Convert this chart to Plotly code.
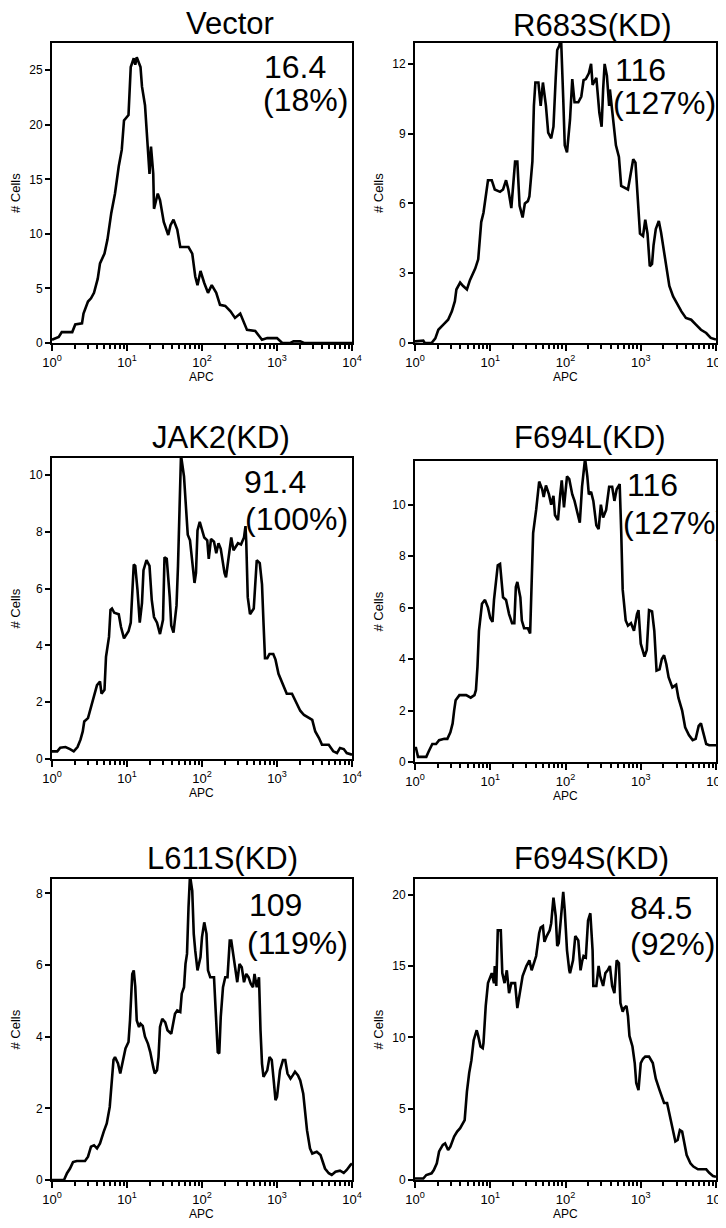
import plotly.graph_objects as go

# Page is 726x1228; the html body adds an 8px margin, so the figure is drawn
# 8px in from the top-left corner of the page.
PAGE_OFF = 8
W, H = 726 - PAGE_OFF, 1228 - PAGE_OFF

# ---------------- data (log10 APC position, # cells) ----------------
vector_log_apc = [0, 0.09, 0.13, 0.27, 0.31, 0.40, 0.42, 0.48, 0.52, 0.56,
                  0.61, 0.64, 0.70, 0.74, 0.79, 0.84, 0.89, 0.93, 0.96, 1.02,
                  1.05, 1.09, 1.11, 1.13, 1.18, 1.20, 1.24, 1.27, 1.30, 1.32,
                  1.35, 1.36, 1.41, 1.44, 1.49, 1.55, 1.58, 1.62, 1.67, 1.71,
                  1.82, 1.87, 1.91, 1.94, 1.98, 2.03, 2.08, 2.13, 2.19, 2.24,
                  2.31, 2.38, 2.44, 2.51, 2.56, 2.60, 2.71, 2.80, 2.87, 3.00,
                  3.07, 3.18, 3.22, 3.31, 3.36, 4.0]
vector_cells = [0.3, 0.55, 1.0, 1.0, 1.7, 1.8, 2.7, 3.8, 4.1, 4.6,
                5.9, 7.3, 8.2, 9.5, 11.9, 13.7, 16.2, 17.7, 20.4, 20.9,
                25.3, 26.1, 25.5, 26.2, 25.3, 23.5, 21.8, 18.6, 15.5, 18.0,
                15.5, 12.3, 13.7, 13.1, 11.1, 9.9, 10.8, 11.3, 10.4, 8.8,
                8.8, 8.2, 6.1, 5.3, 6.6, 5.5, 4.6, 5.3, 4.6, 3.5,
                3.4, 2.9, 2.3, 2.7, 1.8, 1.2, 1.1, 0.3, 0.45, 0.45,
                0, 0, 0.15, 0.15, 0, 0]

r683s_log_apc = [0, 0.11, 0.13, 0.22, 0.27, 0.31, 0.38, 0.44, 0.49, 0.53,
                 0.55, 0.60, 0.64, 0.69, 0.73, 0.80, 0.84, 0.86, 0.88, 0.91,
                 0.94, 0.97, 1.02, 1.06, 1.13, 1.17, 1.21, 1.24, 1.28, 1.30,
                 1.33, 1.36, 1.39, 1.43, 1.46, 1.50, 1.52, 1.56, 1.58, 1.60,
                 1.64, 1.67, 1.70, 1.74, 1.77, 1.81, 1.84, 1.87, 1.89, 1.92,
                 1.94, 1.97, 1.99, 2.02, 2.06, 2.09, 2.12, 2.17, 2.21, 2.24,
                 2.27, 2.31, 2.34, 2.36, 2.41, 2.45, 2.48, 2.50, 2.52, 2.55,
                 2.58, 2.59, 2.62, 2.64, 2.67, 2.71, 2.74, 2.83, 2.85, 2.90,
                 2.93, 2.96, 2.99, 3.03, 3.06, 3.09, 3.12, 3.15, 3.17, 3.20,
                 3.24, 3.27, 3.31, 3.35, 3.38, 3.43, 3.49, 3.54, 3.60, 3.67,
                 3.73, 3.80, 3.87, 3.93, 4.00]
r683s_cells = [0.07, 0.1, 0, 0, 0.2, 0.57, 0.8, 1.0, 1.36, 1.8,
               2.3, 2.6, 2.45, 2.3, 2.7, 3.2, 3.6, 4.45, 5.2, 5.6,
               6.25, 7.0, 7.0, 6.6, 6.5, 6.6, 7.0, 6.6, 5.8, 6.5,
               7.8, 7.8, 5.9, 5.4, 6.0, 6.1, 6.3, 7.8, 10.2, 11.2,
               11.2, 10.2, 11.2, 10.2, 9.05, 8.8, 9.3, 11.4, 12.6, 12.8,
               13.2, 10.5, 8.5, 8.2, 9.6, 11.35, 10.35, 10.35, 10.6, 11.3,
               11.35, 11.6, 12.0, 11.1, 11.4, 9.9, 9.3, 10.9, 12.0, 11.5,
               10.2, 10.9, 9.9, 9.4, 8.5, 8.0, 6.75, 6.6, 7.0, 7.9,
               7.75, 6.3, 4.7, 4.6, 5.3, 4.7, 3.3, 3.4, 4.2, 4.9,
               5.25, 4.75, 3.9, 2.95, 2.45, 2.0, 1.65, 1.36, 1.08, 1.0,
               0.8, 0.57, 0.43, 0.22, 0.15]

jak2_log_apc = [0, 0.07, 0.11, 0.18, 0.24, 0.29, 0.34, 0.38, 0.41, 0.43,
                0.48, 0.52, 0.56, 0.60, 0.64, 0.66, 0.70, 0.72, 0.76, 0.78,
                0.80, 0.83, 0.89, 0.92, 0.96, 1.02, 1.05, 1.07, 1.09, 1.11,
                1.14, 1.17, 1.20, 1.22, 1.26, 1.30, 1.33, 1.36, 1.40, 1.44,
                1.48, 1.50, 1.53, 1.57, 1.59, 1.62, 1.66, 1.68, 1.70, 1.72,
                1.76, 1.79, 1.81, 1.84, 1.87, 1.90, 1.92, 1.94, 1.97, 2.00,
                2.03, 2.07, 2.09, 2.12, 2.16, 2.19, 2.22, 2.25, 2.30, 2.32,
                2.36, 2.39, 2.42, 2.48, 2.52, 2.56, 2.58, 2.59, 2.61, 2.64,
                2.69, 2.71, 2.73, 2.77, 2.80, 2.82, 2.84, 2.87, 2.90, 2.95,
                2.98, 3.02, 3.07, 3.13, 3.20, 3.24, 3.31, 3.36, 3.42, 3.47,
                3.51, 3.56, 3.60, 3.69, 3.75, 3.80, 3.84, 3.89, 3.93, 4.00]
jak2_cells = [0.27, 0.27, 0.4, 0.42, 0.35, 0.27, 0.42, 0.68, 0.97, 1.32,
              1.44, 1.8, 2.15, 2.6, 2.73, 2.3, 2.44, 3.6, 4.3, 5.25,
              5.3, 5.15, 5.1, 4.65, 4.25, 4.5, 4.8, 6.0, 6.85, 6.8,
              5.95, 4.8, 5.5, 6.65, 7.0, 6.8, 5.6, 5.0, 4.8, 4.4,
              4.9, 7.1, 7.05, 5.7, 4.7, 4.45, 5.4, 6.8, 9.2, 10.7,
              9.95, 8.5, 7.9, 7.7, 6.8, 6.2, 6.55, 8.05, 8.35, 8.05,
              7.8, 7.7, 7.05, 7.75, 7.65, 7.25, 7.6, 7.4, 6.55, 6.4,
              7.25, 7.8, 7.35, 7.6, 7.55, 7.8, 8.2, 7.65, 5.7, 5.1,
              5.3, 6.05, 7.0, 6.9, 6.15, 4.8, 3.55, 3.55, 3.7, 3.7,
              3.5, 3.0, 2.65, 2.3, 2.3, 2.1, 1.7, 1.55, 1.45, 1.38,
              0.97, 0.74, 0.5, 0.5, 0.27, 0.21, 0.39, 0.35, 0.21, 0.15]

f694l_log_apc = [0, 0.01, 0.04, 0.15, 0.18, 0.23, 0.28, 0.32, 0.39, 0.43,
                 0.47, 0.50, 0.52, 0.54, 0.59, 0.68, 0.74, 0.79, 0.81, 0.83,
                 0.85, 0.89, 0.93, 0.97, 1.00, 1.03, 1.05, 1.08, 1.10, 1.13,
                 1.16, 1.17, 1.21, 1.25, 1.29, 1.32, 1.34, 1.36, 1.40, 1.42,
                 1.45, 1.50, 1.53, 1.55, 1.57, 1.61, 1.65, 1.69, 1.71, 1.74,
                 1.78, 1.81, 1.84, 1.86, 1.90, 1.93, 1.95, 1.98, 2.02, 2.05,
                 2.09, 2.12, 2.15, 2.19, 2.22, 2.24, 2.26, 2.29, 2.31, 2.34,
                 2.37, 2.41, 2.44, 2.47, 2.50, 2.54, 2.58, 2.62, 2.65, 2.68,
                 2.72, 2.74, 2.76, 2.80, 2.83, 2.87, 2.91, 2.95, 2.97, 3.00,
                 3.05, 3.08, 3.11, 3.15, 3.18, 3.21, 3.25, 3.28, 3.31, 3.34,
                 3.37, 3.42, 3.47, 3.50, 3.55, 3.59, 3.64, 3.69, 3.73, 3.77,
                 3.80, 3.83, 3.87, 3.91, 4.00]
f694l_cells = [0.5, 0.58, 0.2, 0.2, 0.4, 0.7, 0.7, 0.85, 0.9, 0.9,
               1.15, 1.5, 2.0, 2.4, 2.6, 2.6, 2.5, 2.6, 2.8, 3.7,
               5.1, 6.15, 6.3, 6.0, 5.6, 5.45, 6.3, 7.3, 7.65, 7.7,
               6.9, 6.4, 6.3, 5.75, 5.4, 5.4, 6.8, 7.0, 6.4, 5.5,
               5.2, 5.2, 5.0, 6.7, 8.9, 9.8, 10.9, 10.6, 10.3, 10.75,
               10.4, 10.0, 10.35, 9.6, 9.4, 10.4, 10.95, 9.9, 11.1, 11.0,
               10.4, 10.15, 9.8, 9.3, 10.7, 11.45, 11.8, 11.1, 10.4, 10.5,
               10.15, 9.2, 9.05, 10.0, 9.5, 9.8, 10.7, 10.7, 10.15, 10.6,
               10.8, 9.0, 6.7, 5.5, 5.3, 5.4, 5.1, 5.75, 5.9, 4.6,
               4.1, 4.35, 5.9, 5.85, 5.1, 3.55, 3.6, 4.0, 4.15, 3.8,
               3.3, 2.9, 3.0, 2.5, 2.0, 1.35, 1.05, 0.85, 0.9, 1.4,
               1.5, 1.15, 0.7, 0.65, 0.65]

l611s_log_apc = [0, 0.16, 0.20, 0.24, 0.28, 0.33, 0.44, 0.48, 0.52, 0.56,
                 0.60, 0.64, 0.69, 0.73, 0.77, 0.80, 0.82, 0.84, 0.88, 0.91,
                 0.95, 0.98, 1.02, 1.04, 1.07, 1.09, 1.11, 1.13, 1.16, 1.18,
                 1.21, 1.24, 1.28, 1.31, 1.35, 1.37, 1.40, 1.42, 1.44, 1.47,
                 1.51, 1.54, 1.59, 1.61, 1.64, 1.67, 1.71, 1.73, 1.76, 1.78,
                 1.80, 1.82, 1.84, 1.87, 1.89, 1.91, 1.94, 1.98, 2.00, 2.03,
                 2.06, 2.08, 2.11, 2.16, 2.19, 2.21, 2.23, 2.25, 2.28, 2.31,
                 2.34, 2.37, 2.39, 2.42, 2.44, 2.47, 2.50, 2.53, 2.56, 2.59,
                 2.62, 2.65, 2.68, 2.70, 2.73, 2.76, 2.78, 2.80, 2.82, 2.87,
                 2.90, 2.93, 2.96, 2.98, 3.00, 3.02, 3.04, 3.08, 3.11, 3.14,
                 3.18, 3.21, 3.24, 3.28, 3.31, 3.35, 3.38, 3.40, 3.44, 3.47,
                 3.53, 3.58, 3.61, 3.64, 3.69, 3.73, 3.78, 3.84, 3.89, 3.93,
                 3.98, 4.00]
l611s_cells = [0, 0, 0.19, 0.32, 0.5, 0.53, 0.53, 0.65, 0.93, 0.97,
               0.88, 1.02, 1.35, 1.58, 2.04, 2.7, 3.35, 3.43, 3.25, 2.97,
               3.35, 3.67, 3.85, 4.45, 5.75, 5.85, 5.4, 4.45, 4.27, 4.36,
               4.3, 4.0, 3.8, 3.57, 3.15, 2.97, 3.06, 3.43, 4.27, 4.5,
               4.4, 4.18, 4.08, 4.36, 4.64, 4.73, 4.69, 5.2, 5.38, 6.03,
               6.31, 7.6, 8.5, 8.07, 6.87, 6.4, 5.85, 6.22, 6.78, 7.19,
               6.87, 5.85, 5.66, 5.66, 4.36, 3.57, 3.53, 4.55, 5.38, 5.66,
               5.66, 6.68, 6.68, 6.22, 5.85, 5.52, 6.03, 5.94, 5.52, 5.75,
               5.66, 5.48, 5.38, 5.75, 5.38, 5.66, 4.18, 3.25, 2.88, 3.06,
               3.43, 3.35, 2.69, 2.23, 2.32, 2.69, 3.06, 3.35, 3.35, 2.97,
               2.83, 2.92, 3.02, 2.92, 2.78, 2.41, 1.86, 1.39, 0.88, 0.74,
               0.79, 0.7, 0.51, 0.32, 0.19, 0.14, 0.23, 0.26, 0.2, 0.28,
               0.42, 0.46]

f694s_log_apc = [0, 0.11, 0.15, 0.22, 0.25, 0.29, 0.32, 0.37, 0.40, 0.44,
                 0.47, 0.52, 0.56, 0.60, 0.66, 0.69, 0.72, 0.75, 0.78, 0.82,
                 0.84, 0.87, 0.90, 0.91, 0.94, 0.97, 1.02, 1.05, 1.06, 1.08,
                 1.10, 1.14, 1.16, 1.19, 1.22, 1.25, 1.28, 1.33, 1.36, 1.39,
                 1.43, 1.48, 1.52, 1.55, 1.58, 1.61, 1.65, 1.67, 1.70, 1.72,
                 1.75, 1.79, 1.81, 1.84, 1.87, 1.89, 1.91, 1.94, 1.97, 1.99,
                 2.02, 2.05, 2.06, 2.10, 2.13, 2.17, 2.20, 2.22, 2.24, 2.27,
                 2.30, 2.33, 2.36, 2.37, 2.41, 2.44, 2.46, 2.50, 2.53, 2.56,
                 2.59, 2.62, 2.65, 2.68, 2.71, 2.73, 2.76, 2.78, 2.81, 2.83,
                 2.85, 2.89, 2.92, 2.94, 2.97, 3.00, 3.03, 3.06, 3.11, 3.16,
                 3.20, 3.25, 3.28, 3.31, 3.35, 3.38, 3.43, 3.46, 3.49, 3.52,
                 3.55, 3.58, 3.61, 3.66, 3.70, 3.76, 3.87, 3.91, 3.96, 4.00]
f694s_cells = [0.1, 0.1, 0.35, 0.47, 0.7, 1.17, 2.0, 2.46, 2.57, 2.1,
               2.34, 3.04, 3.39, 3.63, 4.2, 6.2, 7.5, 8.4, 9.8, 10.5,
               10.1, 9.36, 9.24, 9.6, 12.2, 13.8, 14.5, 13.8, 15.0, 13.6,
               17.5, 17.5, 14.5, 13.8, 14.7, 13.1, 13.8, 13.8, 12.05, 12.9,
               14.3, 15.0, 15.4, 14.7, 15.2, 15.7, 17.3, 17.7, 17.8, 16.7,
               17.1, 17.5, 18.0, 19.8, 18.5, 16.4, 16.6, 18.5, 20.2, 18.9,
               16.1, 14.7, 14.5, 15.4, 17.1, 16.8, 14.7, 15.3, 15.7, 15.6,
               18.2, 18.7, 16.1, 13.6, 13.6, 15.0, 14.3, 13.6, 14.5, 14.7,
               15.0, 13.6, 13.1, 15.4, 15.2, 12.4, 11.8, 12.05, 12.2, 11.5,
               10.1, 9.36, 8.2, 6.8, 6.3, 8.2, 8.5, 8.65, 8.65, 8.2,
               7.1, 6.3, 5.85, 5.4, 5.4, 4.7, 3.4, 2.7, 2.8, 3.5,
               3.4, 2.57, 1.75, 1.17, 0.94, 0.75, 0.75, 0.5, 0.28, 0.23]

titles = ["Vector", "R683S(KD)", "JAK2(KD)", "F694L(KD)", "L611S(KD)", "F694S(KD)"]
mfi_values = ["16.4", "116", "91.4", "116", "109", "84.5"]
mfi_percents = ["(18%)", "(127%)", "(100%)", "(127%)", "(119%)", "(92%)"]

x_major_ticks = [1, 10, 100, 1000, 10000]
x_major_text = ["10<sup>0</sup>", "10<sup>1</sup>", "10<sup>2</sup>",
                "10<sup>3</sup>", "10<sup>4</sup>"]
x_minor_ticks = [2, 3, 4, 5, 6, 7, 8, 9,
                 20, 30, 40, 50, 60, 70, 80, 90,
                 200, 300, 400, 500, 600, 700, 800, 900,
                 2000, 3000, 4000, 5000, 6000, 7000, 8000, 9000]

series_x = [vector_log_apc, r683s_log_apc, jak2_log_apc,
            f694l_log_apc, l611s_log_apc, f694s_log_apc]
series_y = [vector_cells, r683s_cells, jak2_cells,
            f694l_cells, l611s_cells, f694s_cells]
y_max = [27.5, 12.9, 10.6, 11.7, 8.4, 21.1]
y_dtick = [5, 3, 2, 2, 2, 5]

# ---------------- layout geometry (page pixels) ----------------
boxes = [  # x0, x1, ytop, ybottom
    (52, 352, 43, 343), (415, 716, 43, 343),
    (52, 352, 458, 759), (415, 716, 461, 762),
    (52, 352, 879, 1180), (415, 716, 879, 1180),
]
title_pos = [(230, 24), (592, 25), (221, 437), (590, 437), (222, 858), (591, 858)]
val_pos = [(262, 67), (613, 70), (242, 482), (625, 485), (247, 905), (628, 908)]
pct_pos = [(261, 100), (611, 103), (243, 519), (621, 523), (245, 943), (628, 944)]

FONT = "Liberation Sans, Arial, Helvetica, sans-serif"


def fx(px):
    return (px - PAGE_OFF) / W


def fy(py):
    return 1 - (py - PAGE_OFF) / H


fig = go.Figure()
annotations = []
layout = dict(
    width=W, height=H,
    margin=dict(l=0, r=0, t=0, b=0),
    paper_bgcolor="white", plot_bgcolor="white",
    showlegend=False,
    font=dict(family=FONT, color="black"),
)

for i in range(6):
    n = i + 1
    xs = [10 ** v for v in series_x[i]]
    fig.add_trace(go.Scatter(
        x=xs, y=series_y[i], mode="lines",
        line=dict(color="black", width=2.6),
        xaxis=f"x{n}", yaxis=f"y{n}", hoverinfo="skip",
    ))
    x0, x1, yt, yb = boxes[i]
    layout[f"xaxis{n}"] = dict(
        type="log", range=[0, 4], domain=[fx(x0), fx(x1)], anchor=f"y{n}",
        showline=True, linecolor="black", linewidth=2, mirror=True,
        showgrid=False, zeroline=False,
        ticks="outside", ticklen=6, tickwidth=1.8, tickcolor="black",
        tickmode="array", tickvals=x_major_ticks, ticktext=x_major_text,
        tickfont=dict(size=13, family=FONT),
        minor=dict(ticks="outside", ticklen=4, tickwidth=1.8, tickcolor="black",
                   tickmode="array", tickvals=x_minor_ticks, showgrid=False),
        automargin=False,
    )
    layout[f"yaxis{n}"] = dict(
        range=[0, y_max[i]], domain=[fy(yb), fy(yt)], anchor=f"x{n}",
        showline=True, linecolor="black", linewidth=2, mirror=True,
        showgrid=False, zeroline=False,
        ticks="outside", ticklen=5, tickwidth=1.8, tickcolor="black",
        dtick=y_dtick[i], tick0=0,
        tickfont=dict(size=12, family=FONT),
        automargin=False,
    )
    tx, ty = title_pos[i]
    annotations.append(dict(text=titles[i], x=fx(tx), y=fy(ty), xref="paper", yref="paper",
                            xanchor="center", yanchor="middle", showarrow=False,
                            font=dict(size=31, family=FONT, color="black")))
    vx, vy = val_pos[i]
    annotations.append(dict(text=mfi_values[i], x=fx(vx), y=fy(vy), xref="paper", yref="paper",
                            xanchor="left", yanchor="middle", showarrow=False,
                            font=dict(size=32, family=FONT, color="black")))
    px_, py_ = pct_pos[i]
    annotations.append(dict(text=mfi_percents[i], x=fx(px_), y=fy(py_), xref="paper", yref="paper",
                            xanchor="left", yanchor="middle", showarrow=False,
                            font=dict(size=32, family=FONT, color="black")))
    annotations.append(dict(text="APC", x=fx((x0 + x1) / 2), y=fy(yb + 34), xref="paper", yref="paper",
                            xanchor="center", yanchor="middle", showarrow=False,
                            font=dict(size=12, family=FONT, color="black")))
    annotations.append(dict(text="# Cells", x=fx(x0 - 37), y=fy((yt + yb) / 2), xref="paper", yref="paper",
                            xanchor="center", yanchor="middle", showarrow=False, textangle=-90,
                            font=dict(size=13, family=FONT, color="black")))

layout["annotations"] = annotations
fig.update_layout(**layout)
fig.write_html("out.html")
